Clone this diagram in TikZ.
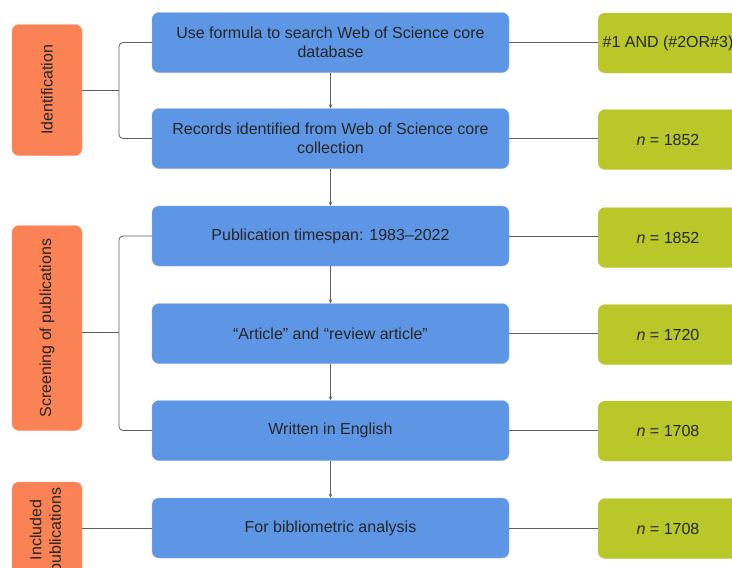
\documentclass[tikz,border=0pt]{standalone}
\usepackage{fontspec}
\setmainfont{Liberation Sans}
\usepackage{xcolor}
\usetikzlibrary{arrows.meta, positioning}
\definecolor{stepblue}{RGB}{94,150,230}
\definecolor{stageorange}{RGB}{250,130,85}
\definecolor{countgreen}{RGB}{185,200,40}
\definecolor{inkgray}{RGB}{38,38,38}
\definecolor{linkgray}{RGB}{95,95,95}

\begin{document}
\begin{tikzpicture}[x=1pt, y=-1pt,
  stepbox/.style={fill=stepblue, draw=stepblue!75!white, rounded corners=7pt, minimum width=357pt, minimum height=60pt, inner sep=0pt, align=center, text=inkgray, font=\fontsize{16}{19}\selectfont},
  countbox/.style={fill=countgreen, draw=countgreen!80!white, rounded corners=7pt, minimum width=140pt, minimum height=60pt, inner sep=0pt, text=inkgray, font=\fontsize{16}{19}\selectfont},
  stagebox/.style={fill=stageorange, draw=stageorange!80!white, rounded corners=7pt, rotate=90, minimum height=70pt, inner sep=0pt, align=center, text=inkgray, font=\fontsize{16}{19.5}\selectfont},
  link/.style={draw=linkgray, line width=0.8pt},
  flow/.style={link, -{Stealth[length=4pt, width=3.5pt]}}]
\clip (0,0) rectangle (732,568);
\fill[white] (0,0) rectangle (732,568);

% stages
\node[stagebox, minimum width=131pt] (ident) at (47,90) {Identification};
\node[stagebox, minimum width=205pt] (screen) at (47,328) {Screening of publications};
\node[stagebox, minimum width=96pt] (incl) at (47,530) {Included\\publications};

% steps
\node[stepbox] (search) at (330.5,42.5) {Use formula to search Web of Science core\\database};
\node[stepbox] (records) at (330.5,138.5) {Records identified from Web of Science core\\collection};
\node[stepbox] (span) at (330.5,236) {Publication timespan: 1983–2022};
\node[stepbox] (type) at (330.5,333.5) {“Article” and “review article”};
\node[stepbox] (lang) at (330.5,430.5) {Written in English};
\node[stepbox] (final) at (330.5,528) {For bibliometric analysis};

% counts
\node[countbox] (qsearch) at (668,43) {\#1 AND (\#2OR\#3)};
\node[countbox] (nrecords) at (668,139.5) {\textit{n} = 1852};
\node[countbox] (nspan) at (668,237.5) {\textit{n} = 1852};
\node[countbox] (ntype) at (668,334.5) {\textit{n} = 1720};
\node[countbox] (nlang) at (668,431) {\textit{n} = 1708};
\node[countbox] (nfinal) at (668,528.5) {\textit{n} = 1708};

% flow down
\draw[flow] (search) -- (records);
\draw[flow] (records) -- (span);
\draw[flow] (span) -- (type);
\draw[flow] (type) -- (lang);
\draw[flow] (lang) -- (final);

% steps to counts
\draw[link] (search.east) -- (search.east -| qsearch.west);
\draw[link] (records.east) -- (records.east -| nrecords.west);
\draw[link] (span.east) -- (span.east -| nspan.west);
\draw[link] (type.east) -- (type.east -| ntype.west);
\draw[link] (lang.east) -- (lang.east -| nlang.west);
\draw[link] (final.east) -- (final.east -| nfinal.west);

% brackets
\coordinate (identfork) at (119,90);
\draw[link] (ident.south) -- (identfork);
\draw[link, rounded corners=4pt] (search.west) -| (identfork) |- (records.west);
\coordinate (screenfork) at (119,332.5);
\draw[link] (screen.south |- screenfork) -- (screenfork);
\draw[link, rounded corners=4pt] (span.west) -| (screenfork) |- (lang.west);
\draw[link] (incl.south |- final.west) -- (final.west);
\end{tikzpicture}
\end{document}
